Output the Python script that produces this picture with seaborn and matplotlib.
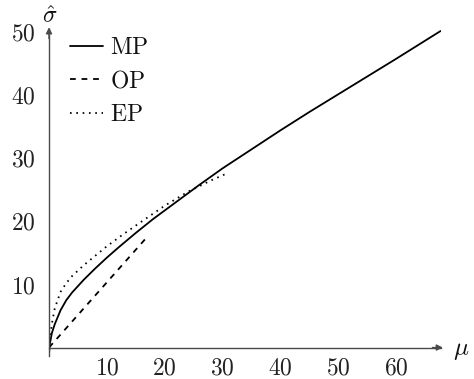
import matplotlib
matplotlib.use("Agg")
import matplotlib.pyplot as plt
import seaborn as sns
import pandas as pd

# ---- data ----
mp_mu = [0, 0.15, 0.5, 1, 2, 3, 4, 6, 8, 10, 12, 15, 18, 22, 26, 30, 35, 40, 45, 50, 55, 60, 67.7]
mp_sigma = [-1.0, 0.6, 2.3, 3.7, 5.9, 7.5, 8.7, 10.7, 12.5, 14.2, 15.8, 18.1, 20.3, 23.0, 25.7, 28.3, 31.3, 34.3, 37.2, 40.0, 42.8, 45.6, 50.0]

op_mu = [0, 16.8]
op_sigma = [0, 17.3]

ep_mu = [0, 0.2, 0.5, 1, 2, 3, 4, 6, 8, 10, 13, 16, 20, 24, 28, 31]
ep_sigma = [0, 1.6, 3.8, 6.2, 8.8, 10.2, 11.3, 13.0, 14.5, 16.0, 18.0, 19.9, 22.4, 24.6, 26.4, 27.6]

x_ticks = [10, 20, 30, 40, 50, 60]
y_ticks = [10, 20, 30, 40, 50]
series_names = ["MP", "OP", "EP"]

sns.set_style("white")
plt.rcParams["mathtext.fontset"] = "cm"
plt.rcParams["font.family"] = ["DejaVu Serif"]

W, H = 474, 379
fig = plt.figure(figsize=(W / 100, H / 100), dpi=100)
ax = fig.add_axes([49 / W, 0.0596, 0.8272, 0.8635])

XMAX, YMIN, YMAX = 67.8, -1.4, 50.3

df_mp = pd.DataFrame({"mu": mp_mu, "sigma": mp_sigma})
df_op = pd.DataFrame({"mu": op_mu, "sigma": op_sigma})
df_ep = pd.DataFrame({"mu": ep_mu, "sigma": ep_sigma})

lw = 1.3
sns.lineplot(data=df_mp, x="mu", y="sigma", ax=ax, color="black", lw=lw,
             sort=False, label=r"$\mathrm{%s}$" % series_names[0])
sns.lineplot(data=df_op, x="mu", y="sigma", ax=ax, color="black", lw=lw,
             sort=False, label=r"$\mathrm{%s}$" % series_names[1])
ax.lines[-1].set_dashes([3.2, 3.2])
ax.lines[-1].set_dash_capstyle("butt")
sns.lineplot(data=df_ep, x="mu", y="sigma", ax=ax, color="black", lw=lw,
             sort=False, label=r"$\mathrm{%s}$" % series_names[2])
ax.lines[-1].set_linestyle((0, (0.9, 2.6)))

ax.set_xlim(0, XMAX)
ax.set_ylim(YMIN, YMAX)

for s in ["top", "right"]:
    ax.spines[s].set_visible(False)
axis_col = "#4a4a4a"
ax.spines["left"].set_position(("data", 0))
ax.spines["bottom"].set_position(("data", 0))
for s in ["left", "bottom"]:
    ax.spines[s].set_color(axis_col)
    ax.spines[s].set_linewidth(1.0)

ax.set_xticks(x_ticks)
ax.set_yticks(y_ticks)
ax.set_xticklabels([r"$%d$" % t for t in x_ticks])
ax.set_yticklabels([r"$%d$" % t for t in y_ticks])
ax.tick_params(axis="both", direction="inout", length=5, width=0.8,
               color="#888888", labelsize=17, labelcolor="#222222")
ax.tick_params(axis="x", pad=4)
ax.tick_params(axis="y", pad=7)
ax.set_xlabel("")
ax.set_ylabel("")

# arrow heads
ax.annotate("", xy=(XMAX + 0.3, 0), xytext=(XMAX - 1.5, 0),
            arrowprops=dict(arrowstyle="-|>", color=axis_col, lw=1.0,
                            mutation_scale=9, shrinkA=0, shrinkB=0),
            annotation_clip=False)
ax.annotate("", xy=(0, YMAX + 0.3), xytext=(0, YMAX - 1.5),
            arrowprops=dict(arrowstyle="-|>", color=axis_col, lw=1.0,
                            mutation_scale=9, shrinkA=0, shrinkB=0),
            annotation_clip=False)

ax.text(69.9, -1.2, r"$\mu$", fontsize=18, ha="left", va="baseline",
        color="#111111")
ax.text(0.2, 50.5, r"$\hat{\sigma}$", fontsize=17, ha="center",
        va="bottom", color="#111111")

leg = ax.legend(loc="upper left", bbox_to_anchor=(70 / W, 1 - 36 / H),
                bbox_transform=fig.transFigure, frameon=False,
                fontsize=17, handlelength=1.4, handletextpad=0.3,
                labelspacing=0.45, borderpad=0, borderaxespad=0)
for t in leg.get_texts():
    t.set_color("#111111")

fig.savefig("out.png", dpi=100)
